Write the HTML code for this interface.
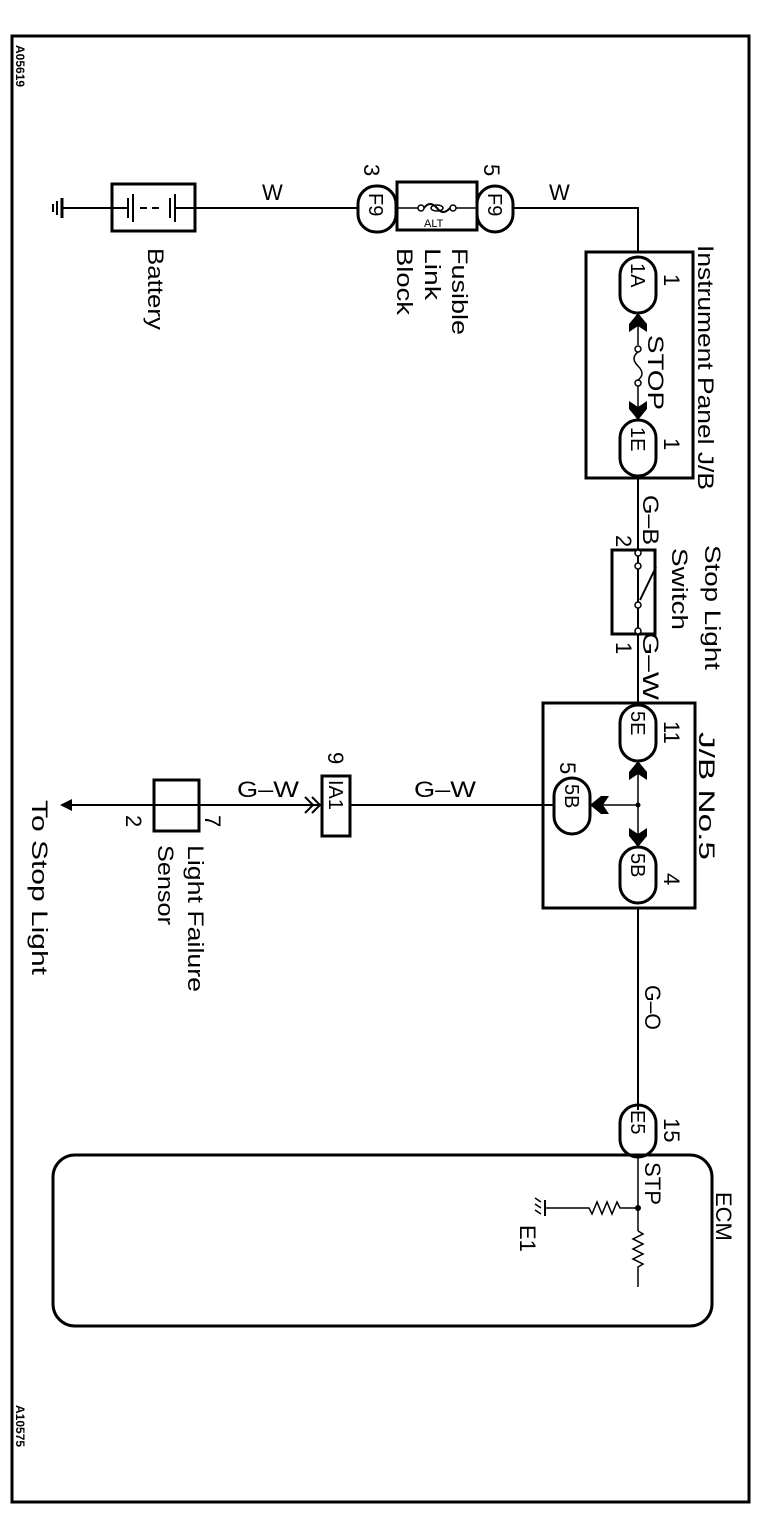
<!DOCTYPE html>
<html><head><style>
html,body{margin:0;padding:0;background:#fff;}
svg{display:block;}
text{font-family:"Liberation Sans",Arial,sans-serif;fill:#000;}
</style></head><body>
<svg width="768" height="1536" viewBox="0 0 768 1536" xmlns="http://www.w3.org/2000/svg">
<g fill="none" stroke="#000">
<rect x="12" y="36" width="737" height="1466" stroke-width="3"/>
<line x1="62" y1="208" x2="112" y2="208" stroke-width="2"/>
<line x1="62" y1="198" x2="62" y2="218" stroke-width="3"/>
<line x1="57" y1="201" x2="57" y2="215" stroke-width="2"/>
<line x1="53" y1="204" x2="53" y2="212" stroke-width="2"/>
<rect x="112" y="184" width="83" height="47" stroke-width="3"/>
<line x1="112" y1="208" x2="128" y2="208" stroke-width="2"/>
<line x1="128" y1="198" x2="128" y2="218" stroke-width="2"/>
<line x1="133" y1="194" x2="133" y2="222" stroke-width="2"/>
<line x1="140" y1="208" x2="147" y2="208" stroke-width="2"/>
<line x1="152" y1="208" x2="159" y2="208" stroke-width="2"/>
<line x1="170" y1="198" x2="170" y2="218" stroke-width="2"/>
<line x1="175" y1="194" x2="175" y2="222" stroke-width="2"/>
<line x1="175" y1="208" x2="195" y2="208" stroke-width="2"/>
<line x1="195" y1="208" x2="358" y2="208" stroke-width="2"/>
<rect x="358" y="186" width="38" height="46" rx="18" stroke-width="3"/>
<rect x="397" y="182" width="80" height="48" stroke-width="3"/>
<rect x="477" y="186" width="36" height="46" rx="18" stroke-width="3"/>
<line x1="397" y1="208" x2="418" y2="208" stroke-width="1.5"/>
<line x1="456" y1="208" x2="477" y2="208" stroke-width="1.5"/>
<circle cx="421" cy="208" r="3" stroke-width="1.5"/>
<circle cx="453" cy="208" r="3" stroke-width="1.5"/>
<path d="M424 208 Q430 200 437 208 Q443 216 450 208" stroke-width="2"/>
<ellipse cx="437" cy="208" rx="6" ry="3" stroke-width="1.5"/>
<path d="M513 208 H638 V252" stroke-width="2"/>
<rect x="586" y="252" width="107" height="226" stroke-width="3"/>
<rect x="620" y="257" width="36" height="56" rx="18" stroke-width="3"/>
<rect x="620" y="420" width="36" height="56" rx="18" stroke-width="3"/>
<line x1="638" y1="313" x2="638" y2="345" stroke-width="1.5"/>
<circle cx="638" cy="349" r="3" stroke-width="1.5"/>
<path d="M638 352 Q630 358 638 366 Q646 374 638 380" stroke-width="1.5"/>
<circle cx="638" cy="383" r="3" stroke-width="1.5"/>
<line x1="638" y1="386" x2="638" y2="420" stroke-width="1.5"/>
<line x1="638" y1="478" x2="638" y2="703" stroke-width="2"/>
<rect x="612" y="550" width="43" height="84" stroke-width="3"/>
<circle cx="638" cy="553" r="3" fill="#fff" stroke-width="1.5"/>
<circle cx="638" cy="566" r="3" fill="#fff" stroke-width="1.5"/>
<line x1="640" y1="600" x2="656" y2="567" stroke-width="2"/>
<circle cx="638" cy="605" r="3" fill="#fff" stroke-width="1.5"/>
<circle cx="638" cy="631" r="3" fill="#fff" stroke-width="1.5"/>
<rect x="543" y="703" width="152" height="205" stroke-width="3"/>
<rect x="620" y="705" width="36" height="56" rx="18" stroke-width="3"/>
<rect x="620" y="847" width="36" height="56" rx="18" stroke-width="3"/>
<rect x="554" y="778" width="36" height="56" rx="18" stroke-width="3"/>
<line x1="638" y1="761" x2="638" y2="847" stroke-width="1.5"/>
<line x1="590" y1="805" x2="638" y2="805" stroke-width="1.5"/>
<line x1="350" y1="805" x2="554" y2="805" stroke-width="2"/>
<rect x="322" y="776" width="28" height="60" stroke-width="3"/>
<path d="M305 797 L313 805 L305 813 M312 797 L320 805 L312 813" stroke-width="2"/>
<line x1="62" y1="805" x2="320" y2="805" stroke-width="2"/>
<rect x="154" y="780" width="45" height="51" stroke-width="3"/>
<line x1="638" y1="908" x2="638" y2="1110" stroke-width="2"/>
<rect x="53" y="1155" width="659" height="171" rx="22" stroke-width="3"/>
<rect x="620" y="1105" width="36" height="52" rx="18" stroke-width="3"/>
<line x1="638" y1="1157" x2="638" y2="1231" stroke-width="1.5"/>
<path d="M638 1231 l5 3 l-10 5 l10 5 l-10 5 l10 5 l-10 5 l10 5 l-5 3 v20" stroke-width="1.5"/>
<path d="M638 1208 H620 l-3 -6 l-5 12 l-5 -12 l-5 12 l-5 -12 l-5 12 l-3 -6 H545" stroke-width="1.5"/>
<line x1="545" y1="1200" x2="545" y2="1216" stroke-width="2"/>
<path d="M541 1202 l-6 -4 M541 1208 l-6 -4 M541 1214 l-6 -4" stroke-width="1.5"/>
</g>
<g fill="#000">
<path d="M638 313 L647 324 L647 332 L638 326 L629 332 L629 324 Z"/>
<path d="M638 420 L647 409 L647 401 L638 407 L629 401 L629 409 Z"/>
<path d="M638 761 L647 772 L647 780 L638 774 L629 780 L629 772 Z"/>
<path d="M638 847 L647 836 L647 828 L638 834 L629 828 L629 836 Z"/>
<path d="M590 805 L601 796 L609 796 L603 805 L609 814 L601 814 Z"/>
<path d="M60 805 L72 799 L72 811 Z"/>
<circle cx="638" cy="805" r="2.5"/>
<circle cx="638" cy="1208" r="3"/>
</g>
<g font-size="22">
<text transform="translate(16,45) rotate(90)" font-size="12" font-weight="bold">A05619</text>
<text transform="translate(16,1405) rotate(90)" font-size="12" font-weight="bold">A10575</text>
<text x="262" y="200">W</text>
<text x="549" y="200">W</text>
<text transform="translate(364,164) rotate(90)">3</text>
<text transform="translate(484,164) rotate(90)">5</text>
<text transform="translate(369,193) rotate(90)" font-size="20">F9</text>
<text transform="translate(488,193) rotate(90)" font-size="20">F9</text>
<text x="424" y="227" font-size="11">ALT</text>
<text transform="translate(148,248) rotate(90)" textLength="82" lengthAdjust="spacingAndGlyphs">Battery</text>
<text transform="translate(452,248) rotate(90)" textLength="87" lengthAdjust="spacingAndGlyphs">Fusible</text>
<text transform="translate(425,248) rotate(90)" textLength="52" lengthAdjust="spacingAndGlyphs">Link</text>
<text transform="translate(397,248) rotate(90)" textLength="67" lengthAdjust="spacingAndGlyphs">Block</text>
<text transform="translate(698,245) rotate(90)" textLength="245" lengthAdjust="spacingAndGlyphs">Instrument Panel J/B</text>
<text transform="translate(664,274) rotate(90)">1</text>
<text transform="translate(664,438) rotate(90)">1</text>
<text transform="translate(631,263) rotate(90)" font-size="20">1A</text>
<text transform="translate(631,427) rotate(90)" font-size="20">1E</text>
<text transform="translate(648,335) rotate(90)" textLength="75" lengthAdjust="spacingAndGlyphs">STOP</text>
<text transform="translate(643,495) rotate(90)" textLength="50" lengthAdjust="spacingAndGlyphs">G–B</text>
<text transform="translate(616,535) rotate(90)">2</text>
<text transform="translate(616,642) rotate(90)">1</text>
<text transform="translate(705,545) rotate(90)" textLength="125" lengthAdjust="spacingAndGlyphs">Stop Light</text>
<text transform="translate(672,548) rotate(90)" textLength="82" lengthAdjust="spacingAndGlyphs">Switch</text>
<text transform="translate(643,632) rotate(90)" textLength="68" lengthAdjust="spacingAndGlyphs">G–W</text>
<text transform="translate(699,732) rotate(90)" textLength="128" lengthAdjust="spacingAndGlyphs">J/B No.5</text>
<text transform="translate(664,721) rotate(90)">11</text>
<text transform="translate(664,873) rotate(90)">4</text>
<text transform="translate(560,762) rotate(90)">5</text>
<text transform="translate(631,711) rotate(90)" font-size="20">5E</text>
<text transform="translate(631,853) rotate(90)" font-size="20">5B</text>
<text transform="translate(565,784) rotate(90)" font-size="20">5B</text>
<text x="414" y="797" textLength="62" lengthAdjust="spacingAndGlyphs">G–W</text>
<text x="237" y="797" textLength="62" lengthAdjust="spacingAndGlyphs">G–W</text>
<text transform="translate(328,752) rotate(90)">9</text>
<text transform="translate(329,780) rotate(90)" font-size="20">IA1</text>
<text transform="translate(205,815) rotate(90)">7</text>
<text transform="translate(126,815) rotate(90)">2</text>
<text transform="translate(188,845) rotate(90)" textLength="147" lengthAdjust="spacingAndGlyphs">Light Failure</text>
<text transform="translate(158,845) rotate(90)" textLength="80" lengthAdjust="spacingAndGlyphs">Sensor</text>
<text transform="translate(32,800) rotate(90)" textLength="175" lengthAdjust="spacingAndGlyphs">To Stop Light</text>
<text transform="translate(645,985) rotate(90)" textLength="45" lengthAdjust="spacingAndGlyphs">G–O</text>
<text transform="translate(664,1118) rotate(90)">15</text>
<text transform="translate(631,1110) rotate(90)" font-size="20">E5</text>
<text transform="translate(645,1162) rotate(90)" textLength="43" lengthAdjust="spacingAndGlyphs">STP</text>
<text transform="translate(716,1192) rotate(90)">ECM</text>
<text transform="translate(520,1225) rotate(90)">E1</text>
</g>
</svg>
</body></html>
